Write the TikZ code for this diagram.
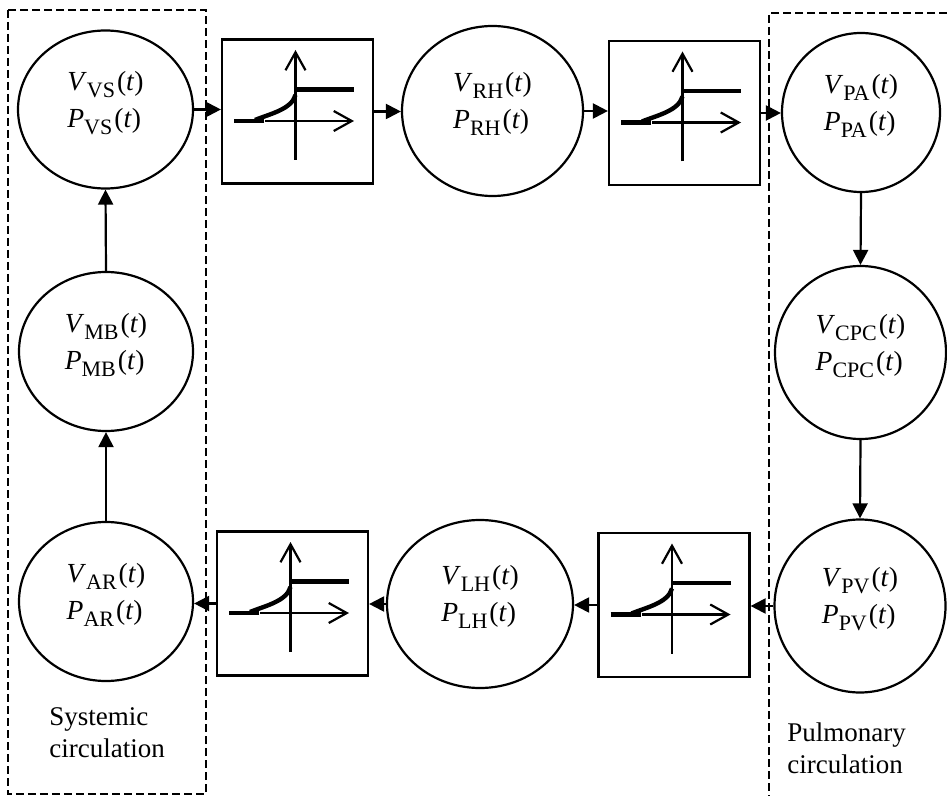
\documentclass[tikz,border=0pt]{standalone}
\usepackage{fontspec}
\setmainfont{Liberation Serif}
\usetikzlibrary{shapes.geometric,arrows.meta}

\newcommand\qsub[2]{\textit{#1}\raisebox{-3.4pt}{\fontsize{11}{11}\selectfont #2}\kern1pt(\textit{t})}
\newcommand\vp[1]{\raisebox{4pt}[\height][\depth]{\begin{tabular}{@{}l@{}}\qsub{V}{#1}\\\qsub{P}{#1}\end{tabular}}}
\newcommand\valveplot[1]{%
  \begin{scope}[shift={(#1.center)}]
    \draw[axis] (-2,48.5) -- (-2,-61.5);
    \draw[axis] (-32.5,9.5) -- (56.5,9.5);
    \draw[curve] (-63.5,9.5) -- (-33.5,9.5);
    \draw[curve] (-42.5,8.5) .. controls (-28,2.5) and (-6,-2) .. (-2,-16.5);
    \draw[curve] (-2,-22) -- (56.5,-22);
  \end{scope}}

\begin{document}
\begin{tikzpicture}[
    x=0.5pt, y=-0.5pt,
    chamber/.style={ellipse, draw=black, line width=1.1pt, inner sep=0pt,
        font=\fontsize{13.8}{18.5}\selectfont},
    valve/.style={rectangle, draw=black, line width=1.1pt, inner sep=0pt,
        minimum width=75.5pt, minimum height=72pt},
    axis/.style={line width=1.1pt, -{Straight Barb[length=9pt,width=10pt]}},
    curve/.style={line width=2.2pt, line cap=butt},
    flow/.style={line width=1.1pt, -{Triangle[length=7.5pt,width=7.5pt]}},
    zone/.style={line width=1.1pt, dash pattern=on 4pt off 2pt},
    caption/.style={anchor=north west, inner sep=0pt, align=left,
        font=\fontsize{13.5}{16}\selectfont}
]
    \useasboundingbox (0,0) rectangle (947,796);

    \node[chamber, minimum width=87.5pt, minimum height=79pt] (VS) at (105.5,109.5) {\vp{VS}};
    \node[chamber, minimum width=87pt, minimum height=79.5pt] (MB) at (106,351.5) {\vp{MB}};
    \node[chamber, minimum width=87pt, minimum height=79.5pt] (AR) at (106,601.5) {\vp{AR}};
    \node[chamber, minimum width=90.5pt, minimum height=85pt] (RH) at (492.5,111) {\vp{RH}};
    \node[chamber, minimum width=79pt, minimum height=79.5pt] (PA) at (861,112.5) {\vp{PA}};
    \node[chamber, minimum width=85.5pt, minimum height=86.5pt] (CPC) at (860.5,352.5) {\vp{CPC}};
    \node[chamber, minimum width=85.5pt, minimum height=86.5pt] (PV) at (860,606) {\vp{PV}};
    \node[chamber, minimum width=93pt, minimum height=84pt] (LH) at (480,604) {\vp{LH}};

    \node[valve] (tv) at (297.5,111.5) {};
    \node[valve] (pv) at (684.5,113) {};
    \node[valve] (mv) at (674,605) {};
    \node[valve] (av) at (292.5,603.5) {};
    \valveplot{tv}
    \valveplot{pv}
    \valveplot{mv}
    \valveplot{av}

    \draw[flow] (VS.east) -- (VS.east -| tv.west);
    \draw[flow] (tv.east) -- (tv.east -| RH.west);
    \draw[flow] (RH.east) -- (RH.east -| pv.west);
    \draw[flow] (pv.east) -- (pv.east -| PA.west);
    \draw[flow] (PA.south) -- (CPC.north);
    \draw[flow] (CPC.south) -- (PV.north);
    \draw[flow] (PV.west) -- (PV.west -| mv.east);
    \draw[flow] (mv.west) -- (mv.west -| LH.east);
    \draw[flow] (LH.west) -- (LH.west -| av.east);
    \draw[flow] (av.west) -- (av.west -| AR.east);
    \draw[flow] (AR.north) -- (MB.south);
    \draw[flow] (MB.north) -- (VS.south);

    \draw[zone] (8,10) rectangle (206,794);
    \draw[zone] (947,13) -- (769,13) -- (769,796);

    \node[caption] (sys) at (49,707) {Systemic\\circulation};
    \node[caption] (pul) at (787,722) {Pulmonary\\circulation};
\end{tikzpicture}
\end{document}
